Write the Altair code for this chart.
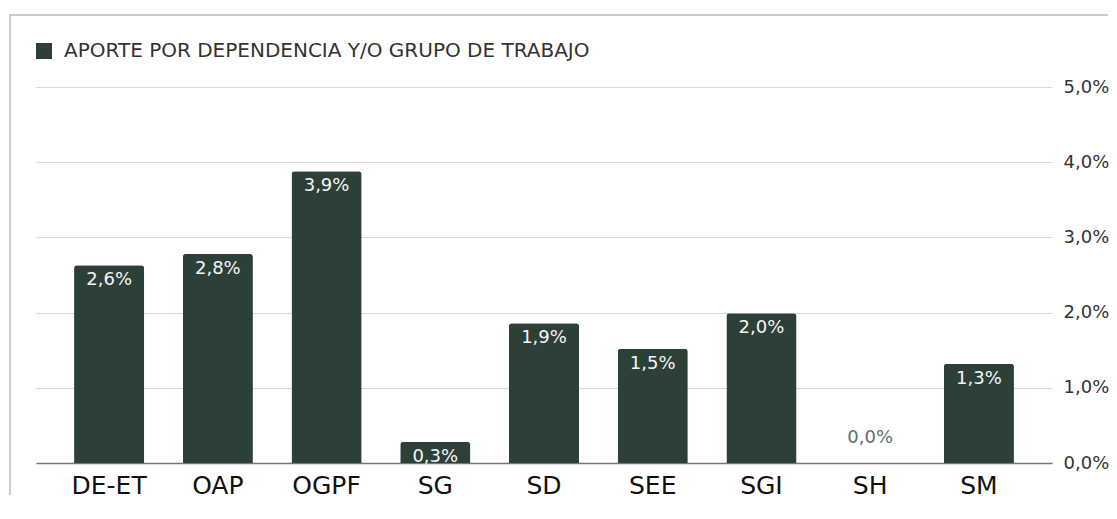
import altair as alt
import pandas as pd

categories = ["DE-ET", "OAP", "OGPF", "SG", "SD", "SEE", "SGI", "SH", "SM"]
values = [0.0263, 0.0278, 0.0388, 0.0028, 0.0186, 0.0152, 0.0199, 0.0, 0.0132]
series_name = "APORTE POR DEPENDENCIA Y/O GRUPO DE TRABAJO"
y_ticks = [0, 0.01, 0.02, 0.03, 0.04, 0.05]

BAR = "#2c4037"
FONT = "DejaVu Sans"

df = pd.DataFrame({"cat": categories, "val": values, "serie": series_name})

x = alt.X("cat:N", sort=categories,
          scale=alt.Scale(paddingInner=0.355, paddingOuter=0.35),
          axis=alt.Axis(title=None, labelAngle=0, labelFontSize=25, labelColor="#111111",
                        labelPadding=10, ticks=False, domainColor="#777777", domainWidth=1.5,
                        labelFont=FONT))
y = alt.Y("val:Q", scale=alt.Scale(domain=[0, 0.05], nice=False),
          axis=alt.Axis(title=None, orient="right", values=y_ticks, grid=True,
                        gridColor="#d9d9d9", domain=False, ticks=False, labelPadding=11,
                        labelFontSize=18, labelColor="#333333", labelFont=FONT,
                        labelExpr="replace(format(datum.value, '.1%'), '.', ',')"))

base = alt.Chart(df).transform_calculate(
    lab="replace(format(datum.val, '.1%'), '.', ',')"
)

bars = base.mark_bar(cornerRadiusTopLeft=3, cornerRadiusTopRight=3).encode(
    x=x, y=y,
    color=alt.Color("serie:N", scale=alt.Scale(range=[BAR]),
                    legend=alt.Legend(title=None, orient="none", legendX=-2, legendY=-46,
                                      symbolType="square", symbolSize=256,
                                      symbolStrokeWidth=0, labelFontSize=20,
                                      labelColor="#333333", labelFont=FONT,
                                      labelOffset=10, padding=0, labelLimit=1000)),
)

labels_in = base.transform_filter("datum.val > 0").mark_text(
    baseline="top", dy=6, color="#f5f5f5", fontSize=18, font=FONT
).encode(x=alt.X("cat:N", sort=categories), y="val:Q", text="lab:N")

labels_zero = base.transform_filter("datum.val == 0").mark_text(
    baseline="bottom", dy=-16, color="#5f6f68", fontSize=18, font=FONT
).encode(x=alt.X("cat:N", sort=categories), y="val:Q", text="lab:N")

frame_df = pd.DataFrame({"k": [0]})
frame_v = alt.Chart(frame_df).mark_rule(color="#cccccc", strokeWidth=2).encode(
    x=alt.value(-26), y=alt.value(-72), y2=alt.value(408))
frame_h = alt.Chart(frame_df).mark_rule(color="#cccccc", strokeWidth=2).encode(
    x=alt.value(-27), x2=alt.value(1072), y=alt.value(-72))

chart = alt.layer(frame_v, frame_h, bars, labels_in, labels_zero).properties(
    width=1016, height=376,
    padding={"left": 0, "top": 6, "right": 0, "bottom": 0},
).configure(font=FONT).configure_view(strokeOpacity=0, strokeWidth=0)

chart.save("out.html", embed_options={"renderer": "svg", "actions": False})
